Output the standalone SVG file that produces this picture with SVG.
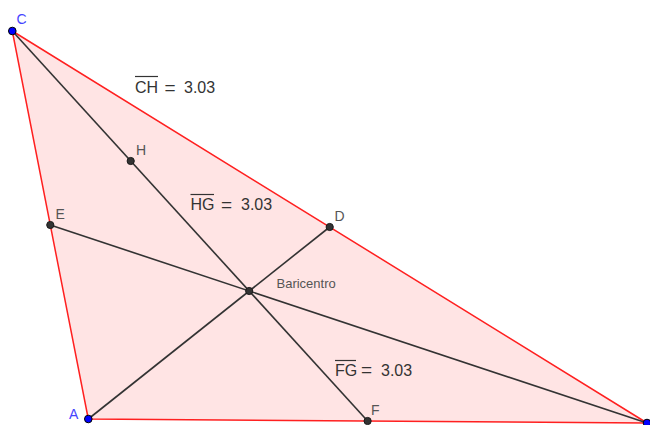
<svg xmlns="http://www.w3.org/2000/svg" width="650" height="425" viewBox="0 0 650 425">
<style>
.tri{fill:#ffe4e4;stroke:#ff2020;stroke-width:1.5;stroke-linejoin:round}
.med{stroke:#333;stroke-width:1.6;fill:none}
.pt{fill:#333;stroke:#1a1a1a;stroke-width:1}
.vt{fill:#0000ff;stroke:#000;stroke-width:1}
.lbl{font-family:"Liberation Sans",Arial,sans-serif;font-size:14px;fill:#555}
.blbl{font-family:"Liberation Sans",Arial,sans-serif;font-size:13px;fill:#555}
.vlbl{font-family:"Liberation Sans",Arial,sans-serif;font-size:14px;fill:#4444ff}
.eq{font-family:"Liberation Sans",Arial,sans-serif;font-size:16px;fill:#333}
.eqs{font-size:19px}
.ov{stroke:#333;stroke-width:1.2}
</style>
<rect width="650" height="425" fill="#fff"/>
<g id="triangle"><polygon class="tri" points="12.3,31 88.3,419 647,423"/></g>
<g id="connectors">
<line class="med" x1="12.3" y1="31" x2="367.6" y2="421"/>
<line class="med" x1="88.3" y1="419" x2="329.7" y2="227"/>
<line class="med" x1="50.3" y1="225" x2="647" y2="423"/>
</g>
<g id="H"><circle class="pt" cx="130.7" cy="161" r="3.6"/><text class="lbl" x="136" y="154.5">H</text></g>
<g id="E"><circle class="pt" cx="50.3" cy="225" r="3.6"/><text class="lbl" x="55.5" y="218.5">E</text></g>
<g id="D"><circle class="pt" cx="329.7" cy="227" r="3.6"/><text class="lbl" x="334.5" y="220.5">D</text></g>
<g id="F"><circle class="pt" cx="367.6" cy="421" r="3.6"/><text class="lbl" x="371" y="414.5">F</text></g>
<g id="G"><circle class="pt" cx="249.2" cy="291" r="3.6"/><text class="blbl" x="276.5" y="287.5">Baricentro</text></g>
<g id="C"><circle class="vt" cx="12.3" cy="31" r="3.8"/><text class="vlbl" x="16.5" y="23.5">C</text></g>
<g id="A"><circle class="vt" cx="88.3" cy="419" r="3.8"/><text class="vlbl" x="69" y="418.5">A</text></g>
<g id="B"><circle class="vt" cx="647" cy="423" r="3.8"/></g>
<g id="label-CH"><line class="ov" x1="135" y1="76.5" x2="158" y2="76.5"/><text class="eq" y="93"><tspan x="135">CH</tspan><tspan class="eqs" x="164.5" y="93.5">=</tspan><tspan x="184" y="93">3.03</tspan></text></g>
<g id="label-HG"><line class="ov" x1="190.5" y1="194.5" x2="214" y2="194.5"/><text class="eq" y="210"><tspan x="190.5">HG</tspan><tspan class="eqs" x="221" y="210.5">=</tspan><tspan x="241" y="210">3.03</tspan></text></g>
<g id="label-FG"><line class="ov" x1="335" y1="360.5" x2="356" y2="360.5"/><text class="eq" y="375.5"><tspan x="335">FG</tspan><tspan class="eqs" x="361" y="376">=</tspan><tspan x="381" y="375.5">3.03</tspan></text></g>
</svg>
